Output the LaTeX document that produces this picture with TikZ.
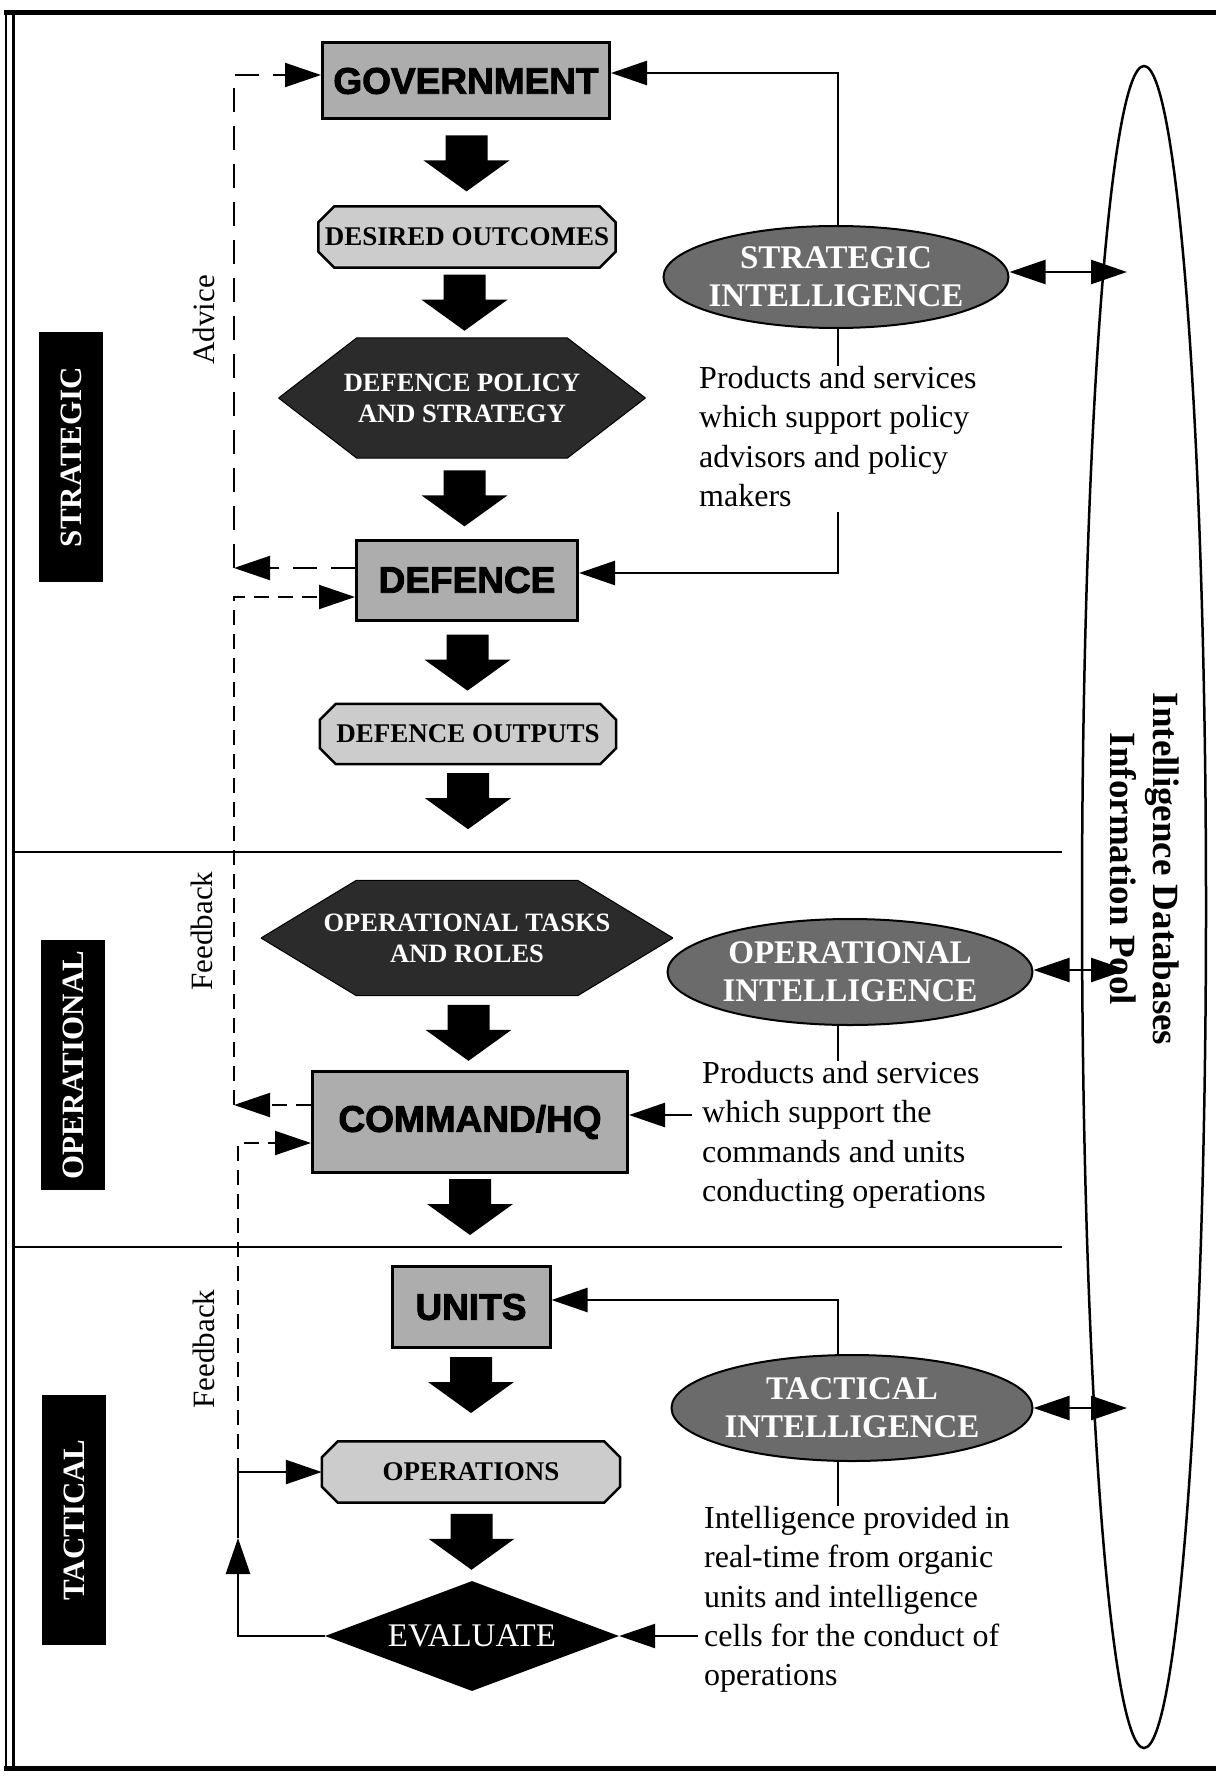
\documentclass[tikz,border=0pt]{standalone}
\usepackage{fontspec}
\setmainfont{Liberation Serif}
\newfontfamily\heavyfont{Liberation Sans}[FakeBold=2.5]
\usetikzlibrary{shapes.geometric,arrows.meta,calc,backgrounds}

\definecolor{boxgray}{gray}{0.68}
\definecolor{octgray}{gray}{0.80}
\definecolor{hexdark}{gray}{0.17}
\definecolor{ellgray}{gray}{0.42}

\newcommand\fsz[2]{\fontsize{#1}{#2}\selectfont}
% polygon with cut corners behind a rectangular node: node, x-cut, y-cut, style
\newcommand\cutcorners[4]{%
  \begin{scope}[on background layer]
    \path[#4] ($(#1.north west)+(#2,0)$) -- ($(#1.north east)+(-#2,0)$)
      -- ($(#1.north east)+(0,#3)$) -- ($(#1.south east)+(0,-#3)$)
      -- ($(#1.south east)+(-#2,0)$) -- ($(#1.south west)+(#2,0)$)
      -- ($(#1.south west)+(0,-#3)$) -- ($(#1.north west)+(0,#3)$) -- cycle;
  \end{scope}}

\tikzset{
  box/.style={draw=black, line width=3, fill=boxgray, inner sep=0,
    font=\heavyfont\bfseries\fsz{37}{40}},
  octlabel/.style={inner sep=0, font=\bfseries\fsz{27}{30}},
  octshape/.style={draw=black, line width=2.5, fill=octgray},
  hexlabel/.style={inner sep=0, align=center, text=white, font=\bfseries\fsz{26.5}{31}},
  hexshape/.style={draw=black, line width=1, fill=hexdark},
  ell/.style={ellipse, draw=black, line width=2, fill=ellgray, inner xsep=-14pt,
    inner ysep=0, align=center, text=white, font=\bfseries\fsz{33}{38}},
  body/.style={inner sep=0, align=left, anchor=north west, font=\fsz{32}{39.3}},
  sidelab/.style={inner sep=0, rotate=90, font=\fsz{31}{31}},
  secbox/.style={fill=black, inner sep=0, rotate=90, text=white,
    minimum width=250, minimum height=64, font=\bfseries\fsz{31}{31}},
  conn/.style={line width=2.5, ->},
  advdash/.style={line width=2, dash pattern=on 24pt off 14pt, ->},
  fbdash/.style={line width=2, dash pattern=on 15pt off 9pt, ->},
  bigarrow/.pic={\fill[black] (-21,-28) -- (21,-28) -- (21,-3) -- (43,-3)
    -- (0,28) -- (-43,-3) -- (-21,-3) -- cycle;}
}

\begin{document}
\begin{tikzpicture}[x=1pt, y=-1pt, line join=miter,
  >={Triangle[length=36pt,width=24pt]}]
\useasboundingbox (0,0) rectangle (1216,1776);

% page frame
\draw[line width=5] (4,13) -- (1216,13);
\draw[line width=5] (4,1768) -- (1216,1768);
\draw[line width=1.8] (6,11) -- (6,1770);
\draw[line width=3] (13,13) -- (13,1768);

% level dividers
\draw[line width=2.5] (13,852) -- (1062,852);
\draw[line width=2.5] (13,1247) -- (1062,1247);

% level labels
\node[secbox] (sstrat) at (71,457) {STRATEGIC};
\node[secbox] (soper) at (73,1065) {OPERATIONAL};
\node[secbox] (stact) at (74,1520) {TACTICAL};

\node[sidelab] (advice) at (204,320) {Advice};
\node[sidelab] (lfeed1) at (202,931) {Feedback};
\node[sidelab] (lfeed2) at (204,1349) {Feedback};

% main chain
\node[box, minimum width=287, minimum height=76] (gov) at (466,81) {GOVERNMENT};
\node[octlabel, minimum width=297, minimum height=61] (des) at (467,237) {DESIRED OUTCOMES};
\node[hexlabel, minimum width=366, minimum height=120] (dps) at (462,398) {DEFENCE POLICY\\AND STRATEGY};
\node[box, minimum width=221, minimum height=80] (def) at (467,580) {DEFENCE};
\node[octlabel, minimum width=296, minimum height=60] (outs) at (468,734) {DEFENCE OUTPUTS};
\node[hexlabel, minimum width=411, minimum height=115] (opt) at (467,938) {OPERATIONAL TASKS\\AND ROLES};
\node[box, minimum width=315, minimum height=101] (cmd) at (470,1122) {COMMAND/HQ};
\node[box, minimum width=158, minimum height=81] (units) at (471,1307) {UNITS};
\node[octlabel, minimum width=298, minimum height=61] (ops) at (471,1472) {OPERATIONS};
\node[diamond, aspect=2.67, fill=black, minimum width=294, minimum height=110,
  inner sep=0, text=white, font=\fsz{33}{33}] (eval) at (472,1636) {EVALUATE};

\cutcorners{des}{16}{16}{octshape}
\cutcorners{outs}{16}{16}{octshape}
\cutcorners{ops}{16}{16}{octshape}
\cutcorners{dps}{78}{60}{hexshape}
\cutcorners{opt}{95}{57.5}{hexshape}

% block arrows down the chain
\pic at ($(gov.south)!0.5!(des.north)$) {bigarrow};
\pic at ($(des.south)!0.5!(dps.north)$) {bigarrow};
\pic at ($(dps.south)!0.5!(def.north)$) {bigarrow};
\pic at ($(def.south)!0.5!(outs.north)$) {bigarrow};
\pic at ($(outs.south)+(0,37)$) {bigarrow};
\pic at ($(opt.south)!0.5!(cmd.north)$) {bigarrow};
\pic at ($(cmd.south)+(0,33)$) {bigarrow};
\pic at ($(units.south)+(0,36)$) {bigarrow};
\pic at ($(ops.south)!0.5!(eval.north)$) {bigarrow};

% intelligence pool
\node[ellipse, draw=black, line width=2.5, minimum width=124, minimum height=1682,
  inner sep=0] (pool) at (1144,907) {};
\node[rotate=-90, inner sep=0, align=center, font=\bfseries\fsz{37}{43}]
  (pooltext) at (1145,869) {Intelligence Databases\\Information Pool};

% intelligence levels
\node[ell, minimum width=345, minimum height=102] (si) at (836,277) {STRATEGIC\\INTELLIGENCE};
\node[ell, minimum width=365, minimum height=106] (oi) at (850,972) {OPERATIONAL\\INTELLIGENCE};
\node[ell, minimum width=361, minimum height=106] (ti) at (852,1408) {TACTICAL\\INTELLIGENCE};

\node[body] (stext) at (699,366) {Products and services\\which support policy\\advisors and policy\\makers};
\node[body] (otext) at (702,1061) {Products and services\\which support the\\commands and units\\conducting operations};
\node[body] (ttext) at (704,1506) {Intelligence provided in\\real-time from organic\\units and intelligence\\cells for the conduct of\\operations};

% intelligence connectors
\coordinate (stem) at (838,0);
\draw[conn] (si.north -| stem) |- ($(gov.east)+(0,-8)$);
\draw[line width=2.5] (si.south -| stem) -- (stext.north -| stem);
\draw[conn] ($(stext.south -| stem)+(0,5)$) |- ($(def.east)+(0,-7)$);

\draw[line width=2.5] (oi.south -| stem) -- (otext.north -| stem);
\coordinate (oarr) at (692,1115);
\draw[conn] (oarr) -- (cmd.east |- oarr);

\draw[conn] (ti.north -| stem) |- ($(units.east)+(0,-7)$);
\draw[line width=2.5] (ti.south -| stem) -- (ttext.north -| stem);
\coordinate (tarr) at (698,1636);
\draw[conn] (tarr) -- (eval.east);

\coordinate (siend) at (1127,272);
\coordinate (oiend) at (1127,970);
\coordinate (tiend) at (1127,1408);
\draw[conn, <->] (si.east |- siend) -- (siend);
\draw[conn, <->] (oi.east |- oiend) -- (oiend);
\draw[conn, <->] (ti.east |- tiend) -- (tiend);

% advice and feedback loops
\coordinate (advlow) at (234,568);
\coordinate (advtop) at (234,75);
\draw[advdash] (def.west |- advlow) -- (advlow);
\draw[advdash] (advlow) |- (gov.west |- advtop);

\coordinate (fblow) at (234,1105);
\coordinate (fbtop) at (234,597);
\draw[fbdash] (cmd.west |- fblow) -- (fblow);
\draw[fbdash] (fblow) |- (def.west |- fbtop);

\coordinate (fb2) at (238,1143);
\coordinate (loopjoin) at (238,1473);
\coordinate (loopmid) at (238,1538);
\draw[fbdash] (loopjoin) |- (cmd.west |- fb2);
\draw[conn] (eval.west) -| (loopmid);
\draw[conn] (loopmid) |- (ops.west);
\end{tikzpicture}
\end{document}
